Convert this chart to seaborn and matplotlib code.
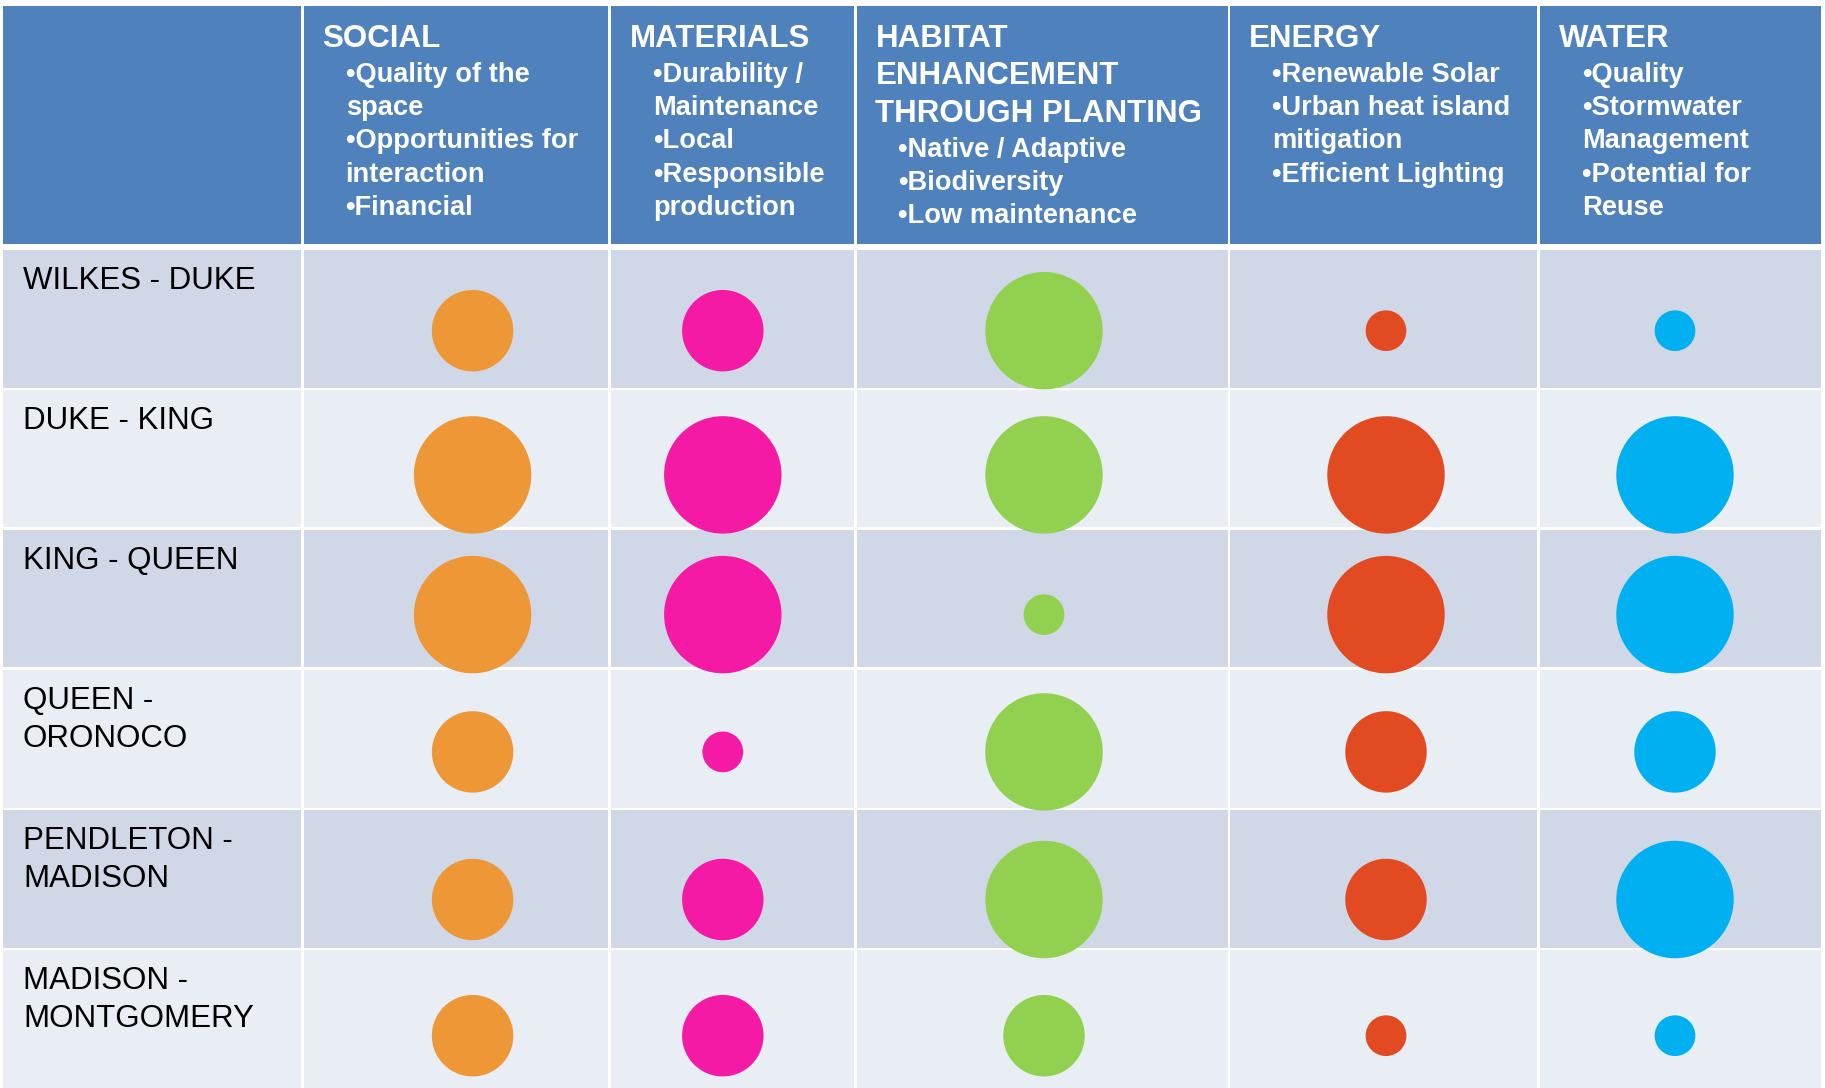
import pandas as pd
import matplotlib
matplotlib.use("Agg")
import matplotlib.pyplot as plt
import seaborn as sns
from matplotlib.patches import Rectangle

# data
segments = ["WILKES - DUKE", "DUKE - KING", "KING - QUEEN",
            "QUEEN -\nORONOCO", "PENDLETON -\nMADISON", "MADISON -\nMONTGOMERY"]
categories = ["SOCIAL", "MATERIALS", "HABITAT", "ENERGY", "WATER"]
social = [2, 3, 3, 2, 2, 2]
materials = [2, 3, 3, 1, 2, 2]
habitat = [3, 3, 1, 3, 3, 2]
energy = [1, 3, 3, 2, 2, 1]
water = [1, 3, 3, 2, 3, 1]

header_titles = [["SOCIAL"], ["MATERIALS"],
                 ["HABITAT", "ENHANCEMENT", "THROUGH PLANTING"],
                 ["ENERGY"], ["WATER"]]
header_bullets = [
    ["•Quality of the", "space", "•Opportunities for", "interaction", "•Financial"],
    ["•Durability /", "Maintenance", "•Local", "•Responsible", "production"],
    ["•Native / Adaptive", "•Biodiversity", "•Low maintenance"],
    ["•Renewable Solar", "•Urban heat island", "mitigation", "•Efficient Lighting"],
    ["•Quality", "•Stormwater", "Management", "•Potential for", "Reuse"],
]
colors = ["#ED9737", "#F41AA6", "#92D050", "#E24A21", "#00B0F0"]

# layout (pixel coordinates of the 1825x1088 canvas)
col_edges = [3.5, 302.6, 609.9, 855.5, 1229.1, 1538.7, 1821.5]
row_tops = [250.2, 389.9, 529.6, 670.4, 810.0, 949.7]
row_h = 137.5
header_top, header_bot = 5.8, 244.4
dot_x = [472.6, 722.8, 1044.0, 1386.0, 1675.0]
dot_dy = [80.5, 85, 85, 81.5, 89.5, 86]
gap = 2.8

sns.set_theme(style="white")
plt.rcParams["font.family"] = ["Liberation Sans", "DejaVu Sans"]

fig = plt.figure(figsize=(18.25, 10.88), dpi=100)
ax = fig.add_axes([0, 0, 1, 1])
ax.set_xlim(0, 1825)
ax.set_ylim(1088, 0)
ax.axis("off")

# header cells
for i in range(len(col_edges) - 1):
    x0 = col_edges[i] + (gap / 2 if i > 0 else 0)
    x1 = col_edges[i + 1] - (gap / 2 if i < len(col_edges) - 2 else 0)
    ax.add_patch(Rectangle((x0, header_top), x1 - x0, header_bot - header_top,
                           color="#4F81BD", lw=0))
    # body cells
    for r, top in enumerate(row_tops):
        h = row_h if r < len(row_tops) - 1 else 1088 - top
        ax.add_patch(Rectangle((x0, top), x1 - x0, h,
                               color="#D0D8E8" if r % 2 == 0 else "#E9EDF4", lw=0))

# header texts
for c in range(len(categories)):
    tx = col_edges[c + 1] + 20
    y = 46.7
    for k, line in enumerate(header_titles[c]):
        ax.text(tx, y, line, color="white", fontsize=22.5, fontweight="bold",
                va="baseline", ha="left")
        if k < len(header_titles[c]) - 1:
            y += 37.5
    y += 35
    for line in header_bullets[c]:
        ax.text(tx + 23, y, line, color="white", fontsize=19.6, fontweight="bold",
                va="baseline", ha="left")
        y += 33.3

# row labels
for r, label in enumerate(segments):
    for k, line in enumerate(label.split("\n")):
        ax.text(23, row_tops[r] + 39 + 38 * k, line, color="black", fontsize=22.5,
                va="baseline", ha="left")

# circles
scores = [social, materials, habitat, energy, water]
rows = []
for c, cat in enumerate(categories):
    for r in range(len(segments)):
        rows.append({"x": dot_x[c], "y": row_tops[r] + dot_dy[r],
                     "category": cat, "score": scores[c][r]})
df = pd.DataFrame(rows)

sns.scatterplot(data=df, x="x", y="y", hue="category", palette=colors,
                hue_order=categories, size="score",
                sizes={1: 860, 2: 3440, 3: 7150}, linewidth=0, alpha=1,
                legend=False, ax=ax, zorder=3)
ax.set_xlim(0, 1825)
ax.set_ylim(1088, 0)

fig.savefig("out.png", dpi=100, facecolor="white")
